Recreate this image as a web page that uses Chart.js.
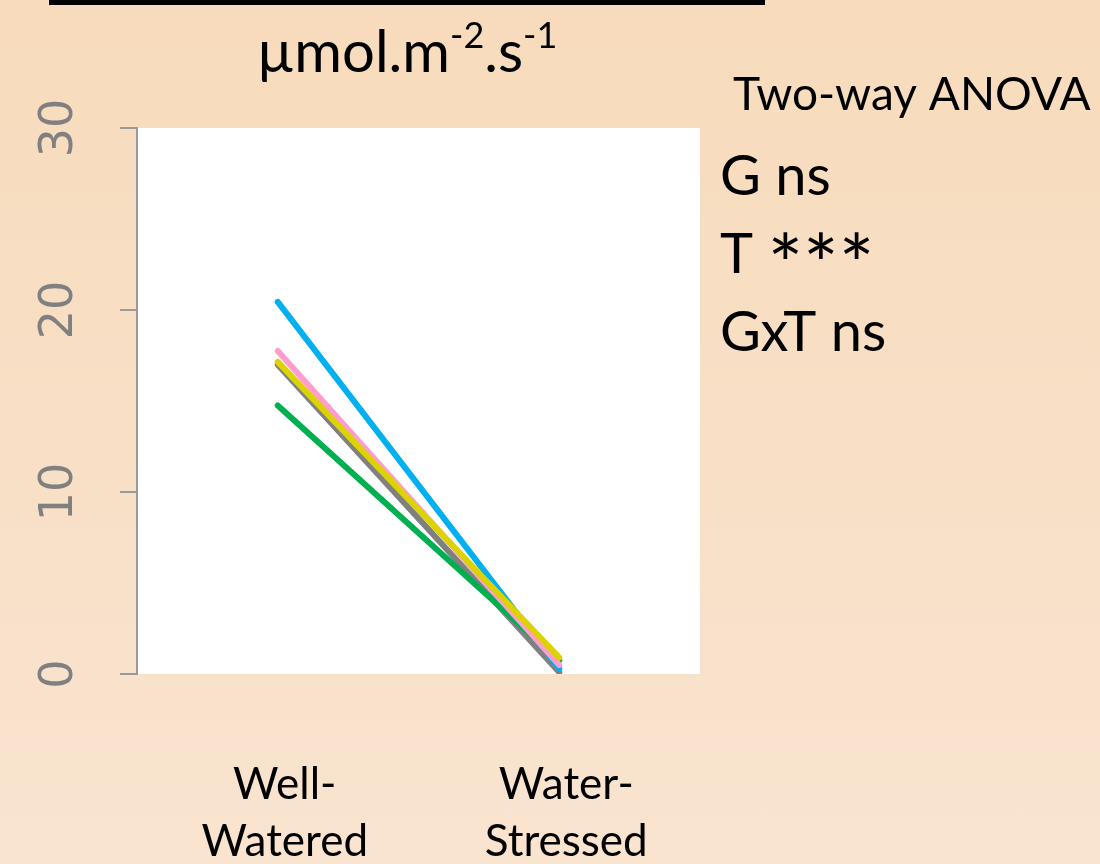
<!DOCTYPE html>
<html>
<head>
<meta charset="utf-8">
<script src="https://cdn.jsdelivr.net/npm/chart.js@4"></script>
<style>
  html, body { margin: 0; padding: 0; }
  #wrap {
    position: relative; width: 1100px; height: 864px;
    background: linear-gradient(to bottom, #f7dbbc, #f9e4d0);
  }
  #bar { position: absolute; left: 49px; top: 0; width: 716px; height: 5px; background: #000; }
  canvas { position: absolute; left: 0; top: 0; }
</style>
</head>
<body>
<div id="wrap">
  <div id="bar"></div>
  <canvas id="chart" width="1100" height="864"></canvas>
</div>
<script>
// treatments on the x axis
const categories = [['Well-', 'Watered'], ['Water-', 'Stressed']];
const yTicks = [0, 10, 20, 30];

// one line per genotype, well-watered -> water-stressed
const yellowLine = [17.15, 0.9];
const pinkLine   = [17.75, 0.5];
const blueLine   = [20.45, 0.3];
const greenLine  = [14.75, 0.75];
const greyLine   = [17.0, 0.1];

const anovaRows = [['G ns', ''], ['T ', '***'], ['GxT ns', '']];

const font = 'Lato, "Open Sans", sans-serif';

function series(data, color){
    return {
        data: data,
        borderColor: color,
        borderWidth: 6,
        borderCapStyle: 'round',
        pointRadius: 0,
        tension: 0,
        fill: false
    };
}

// white panel behind the lines
const panel = {
    id: 'panel',
    beforeDraw(chart){
        const {ctx, chartArea: a} = chart;
        ctx.save();
        ctx.fillStyle = '#ffffff';
        ctx.fillRect(a.left, a.top, a.right - a.left, a.bottom - a.top);
        ctx.restore();
    }
};

// rotated y labels, title with superscripts, anova notes
const extras = {
    id: 'extras',
    afterDraw(chart){
        const ctx = chart.ctx;
        const y = chart.scales.y;
        ctx.save();
        ctx.fillStyle = '#808080';
        ctx.font = '46px "DejaVu Sans"';
        ctx.textAlign = 'center';
        ctx.textBaseline = 'alphabetic';
        y.ticks.forEach(t => {
            ctx.save();
            ctx.translate(72, y.getPixelForValue(t.value));
            ctx.rotate(-Math.PI / 2);
            ctx.fillText(String(t.value), 0, 0);
            ctx.restore();
        });

        // title: µmol.m-2.s-1
        ctx.fillStyle = '#000';
        ctx.textAlign = 'left';
        const big = '58px ' + font, small = '36px ' + font;
        const parts = [['µmol.m', big, 0], ['-2', small, -24], ['.s', big, 0], ['-1', small, -24]];
        let w = 0;
        parts.forEach(p => { ctx.font = p[1]; w += ctx.measureText(p[0]).width; });
        let x = 407 - w / 2;
        parts.forEach(p => {
            ctx.font = p[1];
            ctx.fillText(p[0], x, 72 + p[2]);
            x += ctx.measureText(p[0]).width;
        });

        ctx.font = '46px ' + font;
        ctx.fillText('Two-way ANOVA', 733, 110);
        anovaRows.forEach((r, i) => {
            const base = 195 + i * 78;
            ctx.font = '56px ' + font;
            ctx.fillText(r[0], 720, base);
            if (r[1]) {
                const dx = ctx.measureText(r[0]).width;
                ctx.font = '84px ' + font;
                ctx.fillText(r[1], 720 + dx, base + 22);
            }
        });
        ctx.restore();
    }
};

new Chart(document.getElementById('chart'), {
    type: 'line',
    data: {
        labels: categories,
        datasets: [
            series(yellowLine, '#dcd300'),
            series(pinkLine, '#ff9dcf'),
            series(blueLine, '#00b0f0'),
            series(greenLine, '#00b050'),
            series(greyLine, '#808080')
        ]
    },
    options: {
        responsive: false,
        animation: false,
        layout: { padding: { top: 128, right: 400, left: 0, bottom: 0 } },
        plugins: { legend: { display: false }, tooltip: { enabled: false } },
        scales: {
            x: {
                offset: true,
                grid: { display: false },
                border: { display: false },
                ticks: {
                    color: '#000',
                    font: { family: font, size: 44, lineHeight: 1.3 },
                    padding: 74,
                    labelOffset: 7,
                    maxRotation: 0
                },
                afterFit(scale){ scale.height = 190; }
            },
            y: {
                min: 0,
                max: 30,
                afterBuildTicks(scale){ scale.ticks = yTicks.map(v => ({value: v})); },
                ticks: { display: false },
                grid: {
                    drawOnChartArea: false,
                    drawTicks: true,
                    tickLength: 17,
                    color: '#9a9a9a',
                    lineWidth: 2
                },
                border: { display: true, color: '#9a9a9a', width: 2 },
                afterFit(scale){ scale.width = 137; }
            }
        }
    },
    plugins: [panel, extras]
});
</script>
</body>
</html>
